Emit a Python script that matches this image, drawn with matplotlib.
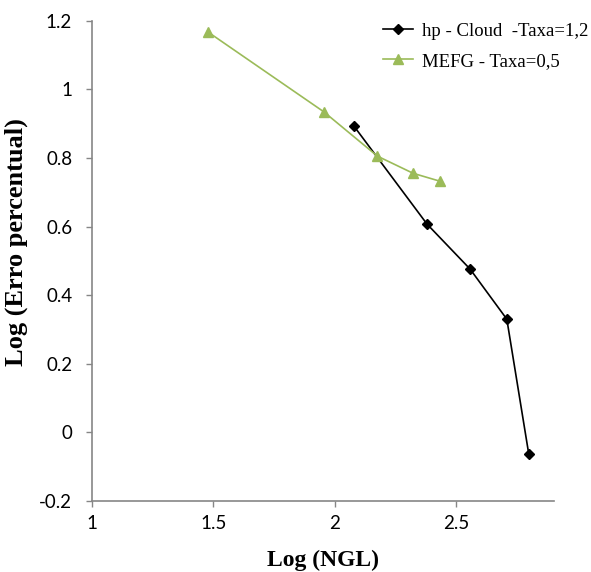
import matplotlib
matplotlib.use("Agg")
import matplotlib.pyplot as plt
from matplotlib.ticker import FuncFormatter

plt.rcParams['axes.unicode_minus'] = False

# hp - Cloud series
hp_x = [2.078, 2.379, 2.556, 2.707, 2.797]
hp_y = [0.893, 0.607, 0.476, 0.330, -0.062]

# MEFG series
mefg_x = [1.478, 1.955, 2.175, 2.322, 2.432]
mefg_y = [1.167, 0.934, 0.805, 0.755, 0.732]

x_ticks = [1, 1.5, 2, 2.5]
y_ticks = [-0.2, 0, 0.2, 0.4, 0.6, 0.8, 1.0, 1.2]

fig = plt.figure(figsize=(5.91, 5.72), dpi=100)
ax = fig.add_axes([0.155, 0.124, 0.782, 0.840])

ax.plot(hp_x, hp_y, color='black', lw=1.2, marker='D', markersize=5,
        label='hp - Cloud  -Taxa=1,2')
ax.plot(mefg_x, mefg_y, color='#9BBB59', lw=1.2, marker='^', markersize=7,
        label='MEFG - Taxa=0,5')

ax.set_xlim(1, 2.9)
ax.set_ylim(-0.2, 1.2)
ax.set_xticks(x_ticks)
ax.set_yticks(y_ticks)
fmt = FuncFormatter(lambda v, p: '%g' % round(v, 2))
ax.xaxis.set_major_formatter(fmt)
ax.yaxis.set_major_formatter(fmt)

for s in ['top', 'right']:
    ax.spines[s].set_visible(False)
for s in ['left', 'bottom']:
    ax.spines[s].set_color('#868686')
    ax.spines[s].set_linewidth(1.2)
ax.tick_params(colors='#868686', length=4, width=1, labelcolor='black',
               labelsize=13.5)
for lab in ax.get_xticklabels() + ax.get_yticklabels():
    lab.set_family('Lato')
ax.tick_params(axis='x', pad=6)
ax.tick_params(axis='y', pad=10)

ax.set_xlabel('Log (NGL)', fontfamily='Liberation Serif', fontweight='bold',
              fontsize=17, labelpad=13)
ax.set_ylabel('Log (Erro percentual)', fontfamily='Liberation Serif',
              fontweight='bold', fontsize=19)
ax.yaxis.set_label_coords(-0.137, 0.54)

leg = ax.legend(loc='upper left', bbox_to_anchor=(0.595, 1.031), frameon=False,
                prop={'family': 'Liberation Serif', 'size': 13.5},
                handlelength=1.6, handletextpad=0.45, labelspacing=0.7)

fig.savefig('out.png', dpi=100)
